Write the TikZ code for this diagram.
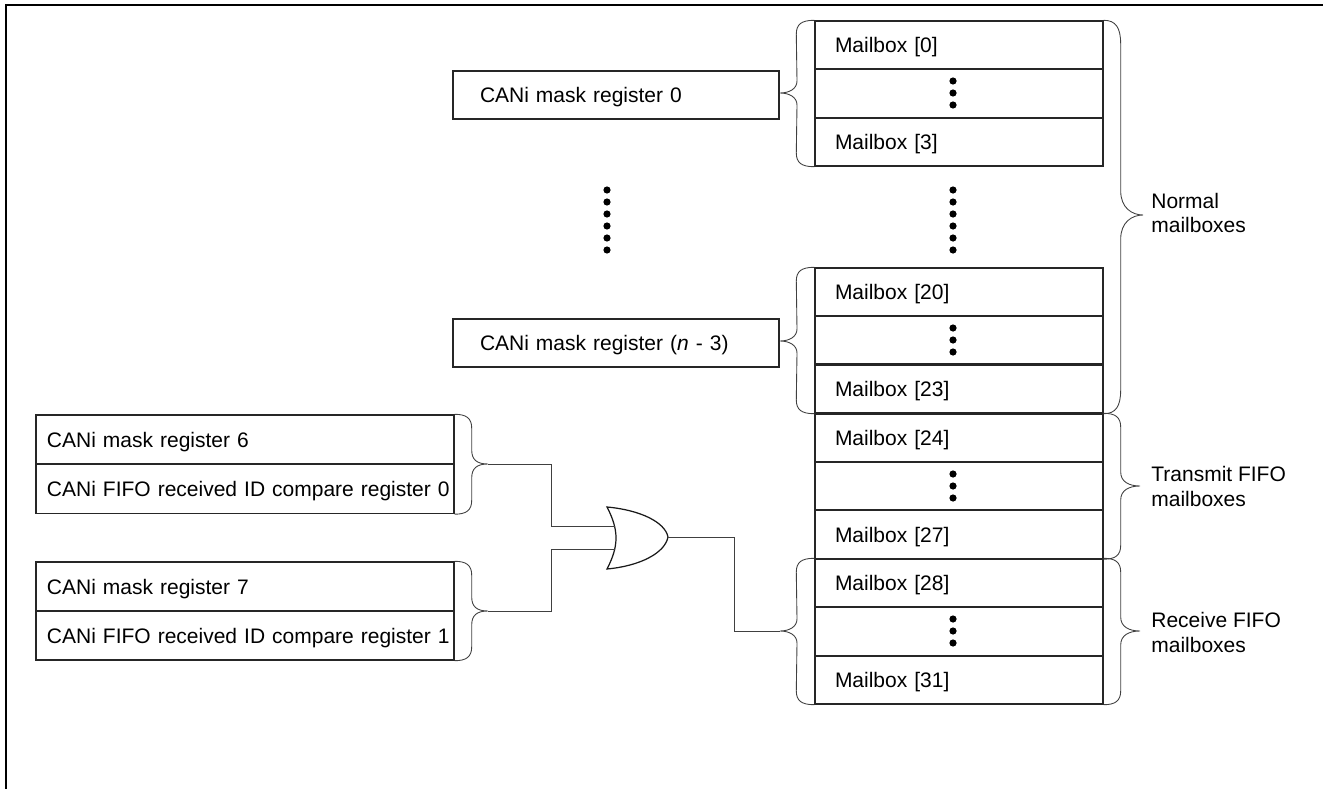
\documentclass[tikz,border=0pt]{standalone}
\usepackage{fontspec}
\setmainfont{Liberation Sans}
\usetikzlibrary{calc}
% left brace: start, tip, end
\newcommand{\braceLeft}[3]{
	\draw[braceLine] (#1)
		.. controls +(-13,0) and +(0,-10) .. ($(#1)+(-18,14)$)
		-- ($(#2)+(17,-12)$)
		.. controls +(0,8) and +(9,0) .. (#2)
		.. controls +(9,0) and +(0,-8) .. ($(#2)+(17,12)$)
		-- ($(#3)+(-18,-14)$)
		.. controls +(0,10) and +(-13,0) .. (#3);
}
% right brace: [curve height] start, tip, end
\newcommand{\braceRight}[4][14]{
	\draw[braceLine] (#2)
		.. controls +(12,0) and +(0,-#1*0.7) .. ($(#2)+(17,#1)$)
		-- ($(#2 |- #3)+(17,-#1)$)
		.. controls +(0,#1*0.7) and +(-11,0) .. (#3)
		.. controls +(-11,0) and +(0,-#1*0.7) .. ($(#2 |- #3)+(17,#1)$)
		-- ($(#4)+(17,-#1)$)
		.. controls +(0,#1*0.7) and +(12,0) .. (#4);
}
\tikzset{
	braceLine/.style={line width=0.5pt, black!75},
	wireLine/.style={line width=0.55pt, black!75},
	mailRow/.style={draw=black!85, line width=0.8pt, inner xsep=4mm, inner ysep=0pt,
		text width=49.6mm, minimum height=9.6mm, text height=9pt, text depth=0pt, align=left},
	maskBox/.style={mailRow, inner xsep=5.4mm, text width=54.4mm},
	regRow/.style={mailRow, inner xsep=2.2mm, text width=79.2mm, minimum height=9.8mm},
	groupName/.style={inner sep=0pt, anchor=west, align=left}
}
\begin{document}
\begin{tikzpicture}[x=0.2mm, y=-0.2mm, font=\fontsize{11.95}{14}\selectfont]
\useasboundingbox (0,0) rectangle (1323,789);
	% frame
	\draw[line width=1.15pt, black] (6,789) -- (6,5) -- (1323,5);

	% mailboxes
	\node[mailRow] (mbox0) at (959,45) {Mailbox [0]};
	\node[mailRow] (mboxA) at (959,93.5) {};
	\node[mailRow] (mbox3) at (959,142) {Mailbox [3]};
	\node[mailRow] (mbox20) at (959,292) {Mailbox [20]};
	\node[mailRow] (mboxB) at (959,340) {};
	\node[mailRow] (mbox23) at (959,389) {Mailbox [23]};
	\node[mailRow] (mbox24) at (959,438) {Mailbox [24]};
	\node[mailRow] (mboxC) at (959,486) {};
	\node[mailRow] (mbox27) at (959,534.5) {Mailbox [27]};
	\node[mailRow] (mbox28) at (959,583) {Mailbox [28]};
	\node[mailRow] (mboxD) at (959,631.5) {};
	\node[mailRow] (mbox31) at (959,680) {Mailbox [31]};

	% dots
	\foreach \y in {0,12,24} {
		\fill (953,81+\y) circle (3.6);
		\fill (953,328+\y) circle (3.6);
		\fill (953,474+\y) circle (3.6);
		\fill (953,619+\y) circle (3.6);
	}
	\foreach \y in {190,202,214,226,238,250} {
		\fill (607,\y) circle (3.6);
		\fill (953,\y) circle (3.6);
	}

	% mask registers
	\node[maskBox] (mask0) at (616,95) {CANi mask register 0};
	\node[maskBox] (maskN) at (616,343) {CANi mask register (\textit{n} - 3)};
	\node[regRow] (mask6) at (245,439.5) {CANi mask register 6};
	\node[regRow] (fifo0) at (245,489) {\mbox{CANi FIFO received ID compare register 0}};
	\node[regRow] (mask7) at (245,586.5) {CANi mask register 7};
	\node[regRow] (fifo1) at (245,635.5) {\mbox{CANi FIFO received ID compare register 1}};

	% group names
	\node[groupName] (normal) at (1151,213) {Normal\\mailboxes};
	\node[groupName] (transmit) at (1151,486.5) {Transmit FIFO\\mailboxes};
	\node[groupName] (receive) at (1151,632.5) {Receive FIFO\\mailboxes};

	% gate
	\coordinate (orInA) at (615,526);
	\coordinate (orInB) at (615,549);
	\coordinate (orOut) at (668,537);
	\draw[line width=0.7pt, black!90] (607,507) .. controls (640,510) and (665,522) .. (orOut)
		.. controls (665,553) and (640,566) .. (607,569)
		.. controls (619,546) and (619,530) .. (607,507) -- cycle;

	% braces
	\coordinate (tip0) at (780,93);
	\coordinate (tipN) at (780,341);
	\coordinate (tipNormal) at (1143,215);
	\coordinate (tipTransmit) at (1140,486);
	\coordinate (tipReceive) at (1140,631);
	\coordinate (tipOr) at (780,631);
	\coordinate (tip6) at (488,464);
	\coordinate (tip7) at (488,611);
	\braceLeft{mbox0.north west}{tip0}{mbox3.south west}
	\braceLeft{mbox20.north west}{tipN}{mbox23.south west}
	\braceLeft{mbox28.north west}{tipOr}{mbox31.south west}
	\braceRight[24]{mbox0.north east}{tipNormal}{mbox23.south east}
	\braceRight{mbox24.north east}{tipTransmit}{mbox27.south east}
	\braceRight{mbox28.north east}{tipReceive}{mbox31.south east}
	\braceRight{mask6.north east}{tip6}{fifo0.south east}
	\braceRight{mask7.north east}{tip7}{fifo1.south east}

	% wires
	\coordinate (bendA) at (551,526);
	\coordinate (bendB) at (551,549);
	\coordinate (bendC) at (734,537);
	\draw[wireLine] (tip6) -| (bendA) -- (orInA);
	\draw[wireLine] (tip7) -| (bendB) -- (orInB);
	\draw[wireLine] (orOut) -- (bendC) |- (tipOr);
\end{tikzpicture}
\end{document}
